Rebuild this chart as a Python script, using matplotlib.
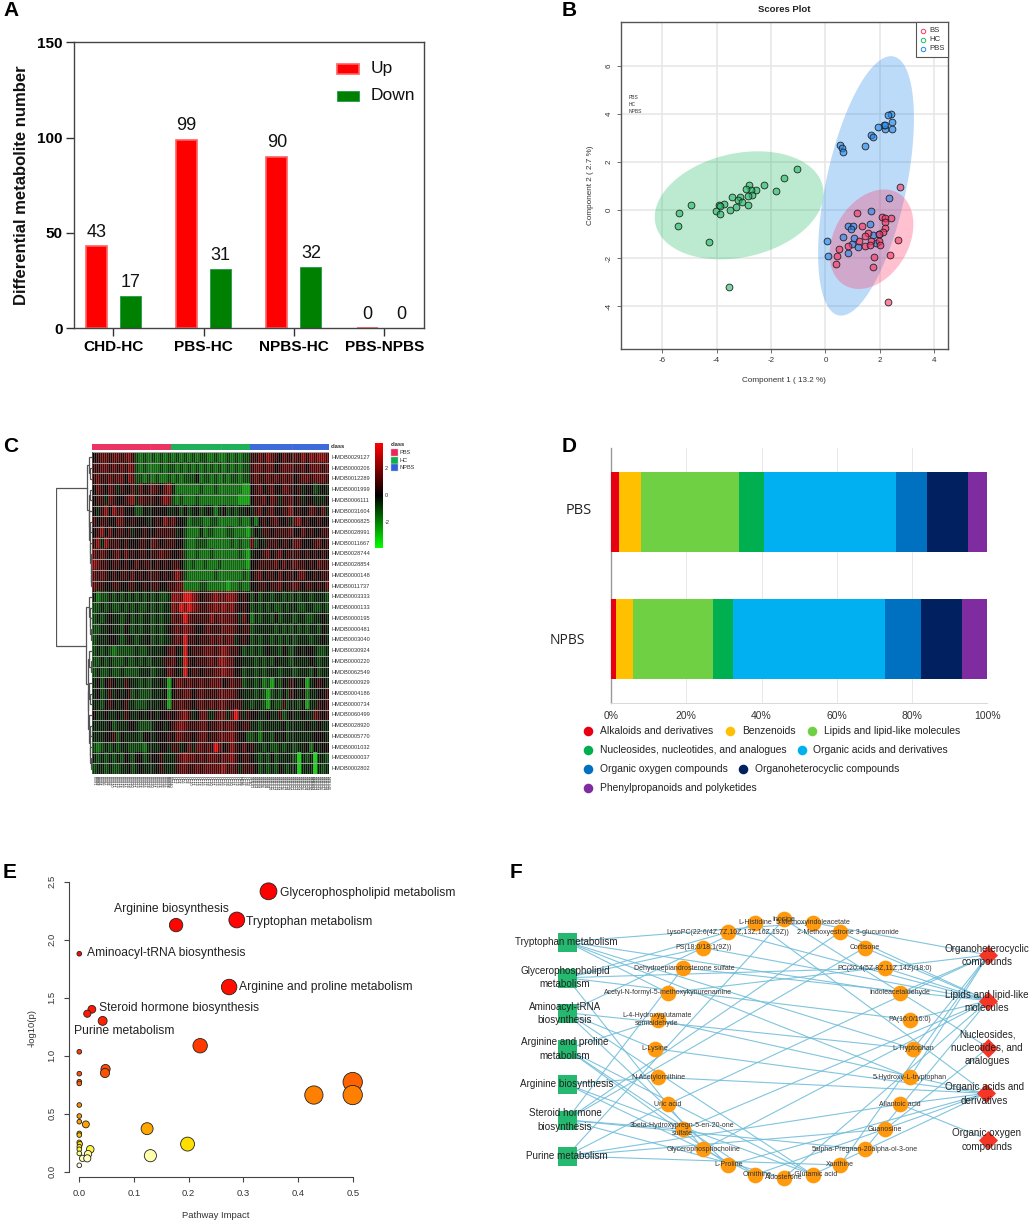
import numpy as np
import matplotlib
matplotlib.use("Agg")
import matplotlib.pyplot as plt
from matplotlib.colors import LinearSegmentedColormap, Normalize
from matplotlib.patches import Polygon, Rectangle

plt.rcParams['font.family'] = ['Liberation Sans', 'DejaVu Sans']
plt.rcParams['axes.unicode_minus'] = False

W, H = 1031, 1223

# ---------- Panel A data
a_groups = ['CHD-HC', 'PBS-HC', 'NPBS-HC', 'PBS-NPBS']
a_up = [43, 99, 90, 0]
a_down = [17, 31, 32, 0]

# ---------- Panel B data
b_hc_x = [-1.04,-1.51,-2.24,-2.82,-2.56,-2.73,-2.90,-1.81,-2.69,-2.84,-3.13,-3.43,-3.22,-3.07,-2.83,-3.28,-3.50,-3.73,-3.90,-3.87,-4.01,-3.86,-4.94,-5.37,-5.42,-4.28,-3.54]
b_hc_y = [1.71,1.32,1.05,1.05,0.83,0.82,0.89,0.78,0.61,0.58,0.54,0.55,0.40,0.35,0.19,0.11,0.01,0.24,0.19,0.17,-0.04,-0.15,0.19,-0.12,-0.67,-1.33,-3.20]
b_pbs_x = [2.42,2.30,2.44,2.46,2.19,2.14,2.17,1.93,1.66,1.73,1.44,0.54,0.61,0.64,2.35,1.68,1.63,0.84,1.03,0.95,0.66,0.04,0.10,0.81,1.04,1.19,1.74,1.95,1.86,0.98]
b_pbs_y = [4.01,3.94,3.68,3.37,3.38,3.52,3.54,3.47,3.13,3.02,2.68,2.69,2.58,2.41,0.50,-0.03,-0.58,-0.65,-0.67,-0.78,-1.12,-1.28,-1.90,-1.80,-1.19,-1.53,-1.03,-1.00,-1.36,-1.43]
b_bs_x = [2.75,1.16,2.06,2.20,2.39,2.17,1.36,2.19,2.11,1.58,1.98,1.46,1.25,1.66,1.95,2.68,1.46,1.64,2.02,0.84,0.48,0.43,1.77,2.36,0.37,1.76,2.30]
b_bs_y = [0.96,-0.12,-0.29,-0.32,-0.33,-0.50,-0.69,-0.76,-0.90,-0.96,-0.99,-1.10,-1.28,-1.29,-1.29,-1.26,-1.50,-1.44,-1.48,-1.51,-1.62,-1.91,-1.96,-1.87,-2.25,-2.38,-3.83]
# centre x, centre y, half extent x, half extent y, correlation
b_ell_hc = (-3.17, 0.19, 3.10, 2.25, 0.22)
b_ell_pbs = (1.49, 1.00, 1.76, 5.40, 0.52)
b_ell_bs = (1.69, -1.22, 1.54, 2.07, 0.30)

# ---------- Panel C data
c_ids = ['HMDB0029127','HMDB0000206','HMDB0012289','HMDB0001999','HMDB0006111','HMDB0031604','HMDB0006825','HMDB0028991','HMDB0011667','HMDB0028744','HMDB0028854','HMDB0000148','HMDB0011737','HMDB0003333','HMDB0000133','HMDB0000195','HMDB0000481','HMDB0003040','HMDB0030924','HMDB0000220','HMDB0062549','HMDB0000929','HMDB0004186','HMDB0000734','HMDB0060499','HMDB0028920','HMDB0005770','HMDB0001032','HMDB0000037','HMDB0002802']
c_levels = [-3.5,-2.5,-1.7,-1.0,-0.4,0.2,0.8,1.4,2.1,3.6]
c_rows = [
 "56776 77678 63232 32323 23232 32332 23223 23233 66768 76576 67686 87887",
 "66776 76768 73232 22323 32323 23232 32323 23233 67767 75677 76675 77767",
 "67667 67758 73323 23223 23233 35233 23232 33233 67667 67676 75677 67776",
 "57657 64655 74756 76578 42222 22322 23222 22211 56756 75577 65645 53454",
 "56647 65567 84766 65687 32322 23222 22222 22111 56675 76466 75645 54445",
 "54685 86755 53354 55554 45353 45345 42453 43445 46756 75566 85655 76574",
 "65665 57755 65554 56586 75542 33322 33222 22322 42565 67556 47856 55655",
 "56857 56656 45565 56666 64532 22423 32223 32221 35466 56666 75575 65566",
 "68486 66565 55665 76566 65532 23332 22222 32322 73546 66566 57755 56756",
 "76765 67575 65665 66766 55632 23222 32222 22321 45567 56756 66656 56565",
 "87665 66565 57566 56565 66532 32232 22322 22221 55666 67575 67665 65766",
 "76765 65665 75656 66565 68632 22222 23222 22232 56756 65756 65775 56566",
 "76655 66556 65565 66556 67722 22332 22221 22322 55665 66756 67656 65657",
 "42334 34343 43434 34334 88799 87566 78778 87565 35344 34434 34344 34443",
 "33434 33434 34334 34344 87989 87667 78787 86565 34343 43343 44334 43343",
 "34345 44345 34344 34344 76797 66666 86777 76475 24344 35344 43443 34454",
 "33445 44354 34344 34345 67687 65567 66677 76566 34444 43434 34343 44354",
 "34445 54345 43445 34344 67696 65666 76767 74565 34344 34343 43444 34454",
 "34343 23333 34334 44456 75495 66677 76787 66534 34345 44354 34545 54334",
 "33434 33343 34343 44466 75496 56667 76887 75544 43434 35444 34444 54344",
 "34334 33433 33444 34457 65495 66566 67787 75534 43434 44344 43444 35344",
 "45356 54465 44343 44541 57767 66766 77756 76634 43423 14354 65451 45654",
 "45346 45456 34333 44451 56677 56766 66777 76544 43431 34353 65452 44556",
 "44356 54564 43334 44541 66766 56766 76776 66644 34431 43363 44351 44656",
 "54454 45465 44545 54556 56786 45774 46774 79646 55445 44634 54454 47656",
 "44445 34445 54333 45545 67876 66775 66767 76566 44344 44453 44445 44544",
 "44455 63544 44355 45556 57766 56775 66777 86553 34244 35453 44444 45554",
 "32343 43443 33324 44554 66457 47767 69756 86575 64434 33434 43445 25455",
 "43434 34354 35534 55644 46787 76767 77677 86566 54343 53444 43043 40443",
 "34434 33445 34544 45644 46776 67677 77786 76466 65343 43543 44044 40434",
]
c_tree = (1.0,
  (.145,(.09,0,(.05,1,2)),(.10,(.06,3,4),(.08,5,(.07,(.05,6,7),(.055,8,(.04,9,(.035,10,(.03,11,12))))))))
  ,(.17,(.10,13,(.06,14,(.05,15,(.04,16,17)))),(.12,(.08,18,(.04,19,20)),(.11,(.08,21,(.05,22,23)),(.08,24,(.07,(.05,25,26),(.06,27,(.03,28,29))))))))
c_classes = ['PBS','HC','NPBS']

# ---------- Panel D data
d_categories = ['Alkaloids and derivatives','Benzenoids','Lipids and lipid-like molecules','Nucleosides, nucleotides, and analogues','Organic acids and derivatives','Organic oxygen compounds','Organoheterocyclic compounds','Phenylpropanoids and polyketides']
d_pbs = [2.1,5.9,26.0,6.7,35.0,8.2,11.0,5.1]
d_npbs = [1.3,4.5,21.3,5.2,40.4,9.6,11.0,6.7]
d_colors = ['#E60012','#FFC000','#70D044','#00B050','#00B0F0','#0070C0','#002060','#7F2CA0']

# ---------- Panel E data
e_impact = [.346,.288,.177,0,.274,.023,.0146,.0427,.221,0,.048,.047,0,0,0,.5,.429,.5,0,0,0,.012,.124,0,0,0,.001,0,0,0,.02,.198,.016,.13,.006,.0146,0]
e_logp = [2.417,2.17,2.126,1.879,1.592,1.40,1.362,1.30,1.086,1.034,.885,.851,.845,.776,.761,.773,.661,.661,.575,.48,.431,.408,.371,.33,.316,.253,.238,.216,.193,.158,.193,.238,.152,.138,.115,.115,.055]
e_labels = ['Glycerophospholipid metabolism','Arginine biosynthesis','Tryptophan metabolism','Aminoacyl-tRNA biosynthesis','Arginine and proline metabolism','Steroid hormone biosynthesis','Purine metabolism']

# ---------- Panel F data
f_pathways = ['Tryptophan metabolism','Glycerophospholipid\nmetabolism','Aminoacyl-tRNA\nbiosynthesis','Arginine and proline\nmetabolism','Arginine biosynthesis','Steroid hormone\nbiosynthesis','Purine metabolism']
f_classes = ['Organoheterocyclic\ncompounds','Lipids and lipid-like\nmolecules','Nucleosides,\nnucleotides, and\nanalogues','Organic acids and\nderivatives','Organic oxygen\ncompounds']
f_metabolites = ['L-Histidine','Inosine','5-Methoxyindoleacetate','2-Methoxyestrone 3-glucuronide','LysoPC(22:6(4Z,7Z,10Z,13Z,16Z,19Z))','Cortisone','PS(18:0/18:1(9Z))','PC(20:4(5Z,8Z,11Z,14Z)/18:0)','Dehydroepiandrosterone sulfate','Indoleacetaldehyde','Acetyl-N-formyl-5-methoxykynurenamine','PA(16:0/16:0)','L-4-Hydroxyglutamate\nsemialdehyde','L-Tryptophan','L-Lysine','5-Hydroxy-L-tryptophan','N-Acetylornithine','Allantoic acid','Uric acid','Guanosine','3beta-Hydroxypregn-5-en-20-one\nsulfate','5alpha-Pregnan-20alpha-ol-3-one','Glycerophosphocholine','Xanthine','L-Proline','Ornithine','Aldosterone','L-Glutamic acid']
# metabolite -> pathway indices
f_met_path = [[2],[6],[0],[5],[1],[5],[1],[1],[5],[0],[0],[1],[3],[0,2],[2],[0],[4],[6],[6],[6],[5],[5],[1],[6],[3,2],[3,4],[5],[3,4,2]]
# metabolite -> class indices
f_met_class = [[3],[2],[0],[1],[1],[1],[1],[1],[1],[0],[0],[1],[3],[0],[3],[0],[3],[4,3],[0],[2],[1],[1],[1],[0],[3],[3],[1],[3]]

# pixel layout of the network
f_path_xy = [(566.7,941.7),(566.7,977.7),(566.7,1012.7),(566.7,1049),(566.7,1084.3),(566.7,1120),(566.7,1156)]
f_path_txt = [(566.7,941.7),(565,977.5),(565,1013.5),(565,1049),(566.7,1084.3),(565,1120),(566.7,1155.7)]
f_class_xy = [(988.3,955),(988.3,1000.7),(988.3,1047.7),(986,1093.3),(988.3,1139.7)]
f_class_txt = [(986.7,955.5),(986.7,1001.5),(987,1047.7),(984.5,1093.7),(987,1140)]
f_met_xy = [(755.3,922.7),(784,919.3),(812.7,922.7),(840,932),(728.3,932),(864.7,947.7),(703.3,947.7),(885,968),(683,968),(900.3,992.7),(667.7,992.7),(910,1019.7),(658,1019.7),(913.3,1048.7),(655,1048.7),(910,1077.3),(658,1077.3),(900.3,1104.3),(667.7,1104.3),(885,1129.3),(683,1129.3),(864.7,1149.3),(703.3,1149.3),(840,1165),(728.3,1165),(755.3,1174.7),(784,1177.7),(812.7,1174.7)]
f_met_txt = [(755,922.7),(784,919.3),(812.7,922.7),(848,932),(728,932),(864.7,947.7),(703.3,947.7),(885,968),(684,968),(900.3,992.7),(667.7,992.7),(910,1019.7),(657,1019.7),(913.3,1048.7),(655,1048.7),(910,1077.3),(658,1077.3),(900.3,1104.3),(667.7,1104.3),(885,1129.3),(682,1129.3),(864.7,1149.3),(703.3,1149.3),(840,1165),(728.3,1165),(757,1174.7),(784,1177.7),(812.7,1174.7)]

fig = plt.figure(figsize=(W/100, H/100), dpi=100)
def axpx(l, t, r, b, **kw):
    return fig.add_axes([l/W, 1-b/H, (r-l)/W, (b-t)/H], **kw)
P = axpx(0, 0, W, H, zorder=20)
P.set_xlim(0, W); P.set_ylim(H, 0); P.axis('off'); P.patch.set_alpha(0)

for s, x, y in [('A',3,10),('B',562,10),('C',3,447),('D',562,447),('E',3,872),('F',510,872)]:
    P.text(x, y, s, fontsize=15, fontweight='bold', ha='left', va='center', color='k')

# ===== A
ax = axpx(73.7, 42.3, 424, 328.3)
ax.set_ylim(0, 150)
ax.set_xlim((73.7-113.3)/90.3, (424-113.3)/90.3)
xs = np.arange(len(a_groups))
off, bw = 17/90.3, 21/90.3
ax.bar(xs-off, a_up, bw, color='#FF0000', edgecolor='#FF6060', linewidth=1.2)
ax.bar(xs+off, a_down, bw, color='#008000', edgecolor='#30A050', linewidth=0.7)
for i in xs:
    ax.text(i-off, a_up[i]+2.8, str(a_up[i]), ha='center', va='bottom', fontsize=13, color='#111')
    ax.text(i+off, a_down[i]+2.8, str(a_down[i]), ha='center', va='bottom', fontsize=13, color='#111')
ax.set_xticks(xs); ax.set_xticklabels(a_groups, fontweight='bold', fontsize=11.1)
ax.set_yticks([0,50,100,150]); ax.set_yticklabels(['0','50','100','150'], fontweight='bold', fontsize=11)
ax.tick_params(length=5.6, width=1, color='#333', pad=2.5)
ax.tick_params(axis='x', pad=3)
for s in ax.spines.values():
    s.set_color('#444'); s.set_linewidth(1)
P.text(21.7,185,'Differential metabolite number', fontweight='bold', fontsize=12, rotation=90, ha='center', va='center', color='#111')
P.add_patch(Rectangle((337,64),22,10,fc='#FF0000',ec='#FF6060',lw=1.2))
P.add_patch(Rectangle((337,91),22,10,fc='#008000',ec='#30A050',lw=0.7))
P.text(371,68.5,'Up',fontsize=12.5,va='center',color='#111')
P.text(371,96,'Down',fontsize=12.5,va='center',color='#111')

# ===== B
ax = axpx(620.7, 22.3, 947.7, 349)
ax.set_xlim(-7.52, 4.49); ax.set_ylim(-5.79, 7.81)
ax.set_xticks(range(-6,5,2)); ax.set_yticks(range(-4,7,2))
ax.grid(color='#E6E6E6', lw=1.1); ax.set_axisbelow(True)
t = np.linspace(0, 2*np.pi, 200)
def ellipse(par, col):
    cx, cy, sx, sy, r = par
    phi = np.arccos(r)
    ax.add_patch(Polygon(np.c_[cx+sx*np.cos(t), cy+sy*np.cos(t-phi)], fc=col, ec='none', alpha=.3, zorder=2))
ellipse(b_ell_hc, '#22BB66'); ellipse(b_ell_pbs, '#2288EE'); ellipse(b_ell_bs, '#FF3366')
for xx, yy, c in [(b_hc_x,b_hc_y,'#22BB66'),(b_pbs_x,b_pbs_y,'#2288EE'),(b_bs_x,b_bs_y,'#FF3366')]:
    ax.scatter(xx, yy, s=24, c=[matplotlib.colors.to_rgba(c,.6)], edgecolors='#222', linewidths=.6, zorder=3)
ax.tick_params(labelsize=5.8, length=3, width=.6, color='#555', labelcolor='#333', pad=3)
for l in ax.get_yticklabels():
    l.set_rotation(90); l.set_va('center')
for s in ax.spines.values():
    s.set_color('#555'); s.set_linewidth(1)
ax.set_title('Scores Plot', fontweight='bold', fontsize=6.8, pad=7.5, color='#222')
P.text(784,381,'Component 1 ( 13.2 %)',fontsize=5.9,ha='center',va='center',color='#333')
P.text(591,185,'Component 2 ( 2.7 %)',fontsize=5.9,ha='center',va='center',rotation=90,color='#333')
P.add_patch(Rectangle((916,22.3),31.7,35,fc='white',ec='#555',lw=.8))
for i,(lab,c) in enumerate(zip(['BS','HC','PBS'],['#FF3366','#22BB66','#2288EE'])):
    y = 31+i*8.8
    P.plot([923],[y],'o',ms=3.2,mfc='none',mec=c,mew=.7)
    P.text(929.5,y,lab,fontsize=5.6,va='center',color='#333')
for lab, y in zip(['PBS','HC','NPBS'],[97.7,104.3,111.3]):
    P.text(629,y,lab,fontsize=3.6,va='center',color='#333')

# ===== C
ax = axpx(92.3, 452, 329, 774)
mat = np.array([[c_levels[int(ch)] for ch in r.replace(' ','')] for r in c_rows])
cm = LinearSegmentedColormap.from_list('gbr',['#00FF00','#000000','#FF0000'])
ax.imshow(mat, cmap=cm, vmin=-3.9, vmax=3.9, aspect='auto', interpolation='nearest', extent=(0,60,30,0))
ax.vlines(np.arange(0,60.01,.5),0,30,color='#909090',lw=.4,alpha=.85)
ax.hlines(np.arange(0,31),0,60,color='#A0A0A0',lw=.75)
ax.axis('off')
for i, name in enumerate(c_ids):
    P.text(331, 452+(i+.5)*322/30, name, fontsize=4.1, va='center', color='#333')
P.text(331,446.5,'class',fontsize=4.1,fontweight='bold',va='center',color='#222')
ax2 = axpx(92.3,443.7,329,449.5)
ax2.set_xlim(0,3); ax2.set_ylim(0,1); ax2.axis('off')
c_col = ['#F0245A','#0DB04F','#2F62DC']
for i in range(3):
    ax2.barh(.5,1,1,left=i,color=c_col[i])
ax2.vlines(np.arange(0,3.001,1/40),0,1,color='#C0C0C0',lw=.25,alpha=.6)
# dendrogram
d = axpx(55.7,452,92.3,774)
d.set_xlim(1.0,0); d.set_ylim(30,0); d.axis('off')
def tree(n):
    if isinstance(n,int):
        return n+.5, 0.0
    h, a, b = n
    ya, ha = tree(a); yb, hb = tree(b)
    d.plot([ha,h,h,hb],[ya,ya,yb,yb],color='#555',lw=.9,solid_joinstyle='miter')
    return (ya+yb)/2, h
tree(c_tree)
# colour bar
cb = axpx(374.7,443.3,382,547.7)
cb.imshow(np.linspace(3.9,-3.9,256)[:,None],cmap=cm,vmin=-3.9,vmax=3.9,aspect='auto')
cb.axis('off')
for v in [2,0,-2]:
    P.text(384.7,495.5-v*13.35,str(v),fontsize=4.1,va='center',color='#333')
P.text(391,445,'class',fontsize=4.1,fontweight='bold',va='center',color='#222')
for i,(lab,c) in enumerate(zip(c_classes,c_col)):
    y = 449.2+i*7.35
    P.add_patch(Rectangle((391.3,y),7,7.2,fc=c,ec='#C8C8C8',lw=.3))
    P.text(399,y+3.6,lab,fontsize=4.1,va='center',color='#333')
for i in range(120):
    g = i//40
    lab = c_classes[g]+str(i%40+1)
    P.text(92.3+(i+.5)*236.7/120,776,lab,fontsize=2.7,rotation=270,ha='center',va='top',color='#333')

# ===== D
ax = axpx(611,448,987.3,703)
ax.set_xlim(0,100); ax.set_ylim((703-512)/127,(448-512)/127)
for j,(vals) in enumerate([d_pbs,d_npbs]):
    ax.barh(j, vals, .635, left=np.cumsum([0]+vals[:-1]), color=d_colors, zorder=3)
ax.set_xticks(range(0,101,20)); ax.set_xticklabels([f'{v}%' for v in range(0,101,20)])
ax.set_yticks([])
ax.grid(axis='x',color='#E8E8E8',lw=.7); ax.set_axisbelow(True)
ax.tick_params(axis='x',labelsize=7.5,length=0,pad=6,labelcolor='#333')
for k in ['top','right']: ax.spines[k].set_visible(False)
ax.spines['bottom'].set_color('#D8D8D8'); ax.spines['bottom'].set_linewidth(.7)
ax.spines['left'].set_color('#999'); ax.spines['left'].set_linewidth(1)
P.text(566,510,'PBS',fontsize=10.5,fontfamily='Open Sans',va='center',color='#222')
P.text(550,640,'NPBS',fontsize=10,fontfamily='Open Sans',va='center',color='#222')
d_pos = [(588.3,731.3),(730,731.3),(812.3,731.3),(588.3,750.3),(801.7,750.3),(588.3,769.3),(743,769.3),(588.3,788)]
for (x,y),lab,c in zip(d_pos,d_categories,d_colors):
    P.plot([x],[y],'o',ms=6.9,mfc=c,mec='none')
    P.text(x+11.7,y,lab,fontsize=7.4,va='center',color='#222')

# ===== E
ax = axpx(68.7,870,390,1176.7)
sc = 546.8
ax.set_xlim(-(79.3-68.7)/sc,(390-79.3)/sc)
ax.set_ylim(-(1176.7-1171.7)/116,(1171.7-870)/116)
imp, lp = np.array(e_impact), np.array(e_logp)
heat = LinearSegmentedColormap.from_list('heat',[(0,'#FFFFFF'),(.05,'#FFFFC0'),(.07,'#FFFF70'),(.09,'#FFE800'),(.15,'#FFA800'),(.27,'#FF8000'),(.34,'#FF5500'),(.45,'#FF3800'),(.6,'#FF1000'),(1,'#FF0000')])
rpx = (7+31.1*np.sqrt(imp))/3
ax.scatter(imp,lp,s=(2*rpx*.72)**2,c=lp,cmap=heat,norm=Normalize(0,2.42),edgecolors='#222',linewidths=.6,zorder=3,clip_on=False)
for k in ['top','right']: ax.spines[k].set_visible(False)
ax.spines['left'].set_bounds(0,2.5); ax.spines['bottom'].set_bounds(0,.5)
for k in ['left','bottom']:
    ax.spines[k].set_color('#444'); ax.spines[k].set_linewidth(.8)
ax.set_xticks(np.arange(0,.51,.1)); ax.set_yticks(np.arange(0,2.51,.5))
ax.set_xticklabels(['0.0','0.1','0.2','0.3','0.4','0.5']); ax.set_yticklabels(['0.0','0.5','1.0','1.5','2.0','2.5'],rotation=90,va='center')
ax.tick_params(labelsize=6.8,length=3.6,width=.8,color='#444',labelcolor='#333',pad=5)
P.text(216,1215,'Pathway Impact',fontsize=6.8,ha='center',va='center',color='#333')
P.text(31.7,1028,'-log10(p)',fontsize=6.8,ha='center',va='center',rotation=90,color='#333')
e_pos = [(280,892.7),(113.7,908.7),(246,921.7),(87,952.7),(239,987),(99,1008),(74,1030.7)]
for (x,y),lab in zip(e_pos,e_labels):
    P.text(x,y,lab,fontsize=8.7,va='center',color='#222')

# ===== F
N = axpx(0,0,W,H,zorder=10)
N.set_xlim(0,W); N.set_ylim(H,0); N.axis('off'); N.patch.set_alpha(0)
for i,(pp,cc) in enumerate(zip(f_met_path,f_met_class)):
    mx,my = f_met_xy[i]
    for p in pp:
        N.plot([f_path_xy[p][0],mx],[f_path_xy[p][1],my],color='#72BEDA',lw=.8,alpha=.9,zorder=1)
    for c in cc:
        N.plot([f_class_xy[c][0],mx],[f_class_xy[c][1],my],color='#72BEDA',lw=.8,alpha=.9,zorder=1)
N.scatter(*zip(*f_path_xy),marker='s',s=(19*.72)**2,c='#25B96F',linewidths=0,zorder=2)
N.scatter(*zip(*f_met_xy),marker='o',s=(15.7*.72)**2,c='#FF9A0E',linewidths=0,zorder=2)
N.scatter(*zip(*f_class_xy),marker='D',s=(13.5*.72)**2,c='#F53526',linewidths=0,zorder=2)
for (x,y),lab in zip(f_path_txt,f_pathways):
    N.text(x,y,lab,fontsize=7.1,ha='center',va='center',color='#222',linespacing=1.45,zorder=3)
for (x,y),lab in zip(f_class_txt,f_classes):
    N.text(x,y,lab,fontsize=7.1,ha='center',va='center',color='#222',linespacing=1.45,zorder=3)
for (x,y),lab in zip(f_met_txt,f_metabolites):
    N.text(x,y,lab,fontsize=5,ha='center',va='center',color='#333',linespacing=1.3,zorder=3)

fig.savefig('out.png',dpi=100,facecolor='white')
